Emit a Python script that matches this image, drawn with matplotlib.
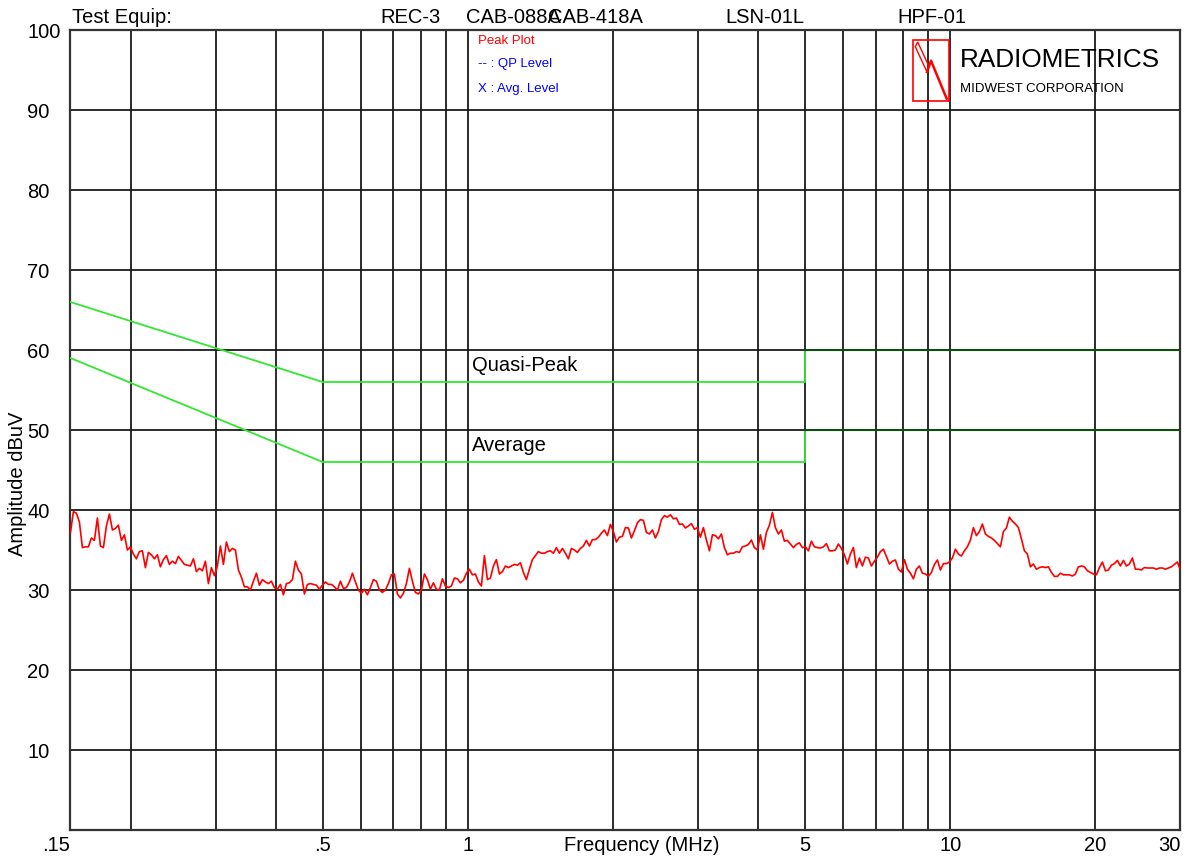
import numpy as np
import matplotlib
matplotlib.use('Agg')
import matplotlib.pyplot as plt
from matplotlib.patches import Rectangle, Polygon

plt.rcParams['font.family'] = ['Liberation Sans', 'DejaVu Sans']

# --- data ---
f_start, f_stop = 0.15, 30.0

grid_freqs = [0.15, 0.2, 0.3, 0.4, 0.5, 0.6, 0.7, 0.8, 0.9, 1, 2, 3, 4, 5, 6, 7, 8, 9, 10, 20, 30]
labeled = {0.15: '.15', 0.5: '.5', 1: '1', 5: '5', 10: '10', 20: '20', 30: '30'}
y_ticks = [10, 20, 30, 40, 50, 60, 70, 80, 90, 100]

qp_freq = [0.15, 0.5, 5, 5]
qp_level = [66, 56, 56, 60]
avg_freq = [0.15, 0.5, 5, 5]
avg_level = [59, 46, 46, 50]
hi_freq = [5, 30]
qp_hi = [60, 60]
avg_hi = [50, 50]

# peak sweep, 0.15 - 30 MHz (log sweep points)
trace_dbuv = [
    37.1, 39.8, 39.6, 38.5, 35.3, 35.4, 35.4, 36.5, 36.2, 39.0,
    35.5, 35.3, 38.0, 39.5, 37.5, 37.7, 38.1, 36.2, 36.9, 35.0,
    35.4, 34.5, 33.9, 34.8, 34.9, 32.8, 34.7, 34.4, 33.9, 34.4,
    32.9, 33.8, 34.3, 33.2, 33.6, 33.3, 34.2, 33.7, 33.2, 33.1,
    33.0, 33.9, 32.3, 32.7, 32.4, 33.6, 30.8, 32.8, 31.8, 33.0,
    35.5, 33.2, 36.0, 34.8, 35.2, 35.0, 32.5, 31.6, 30.4, 30.4,
    30.0, 31.1, 32.1, 30.6, 31.3, 31.0, 30.8, 31.1, 30.3, 30.1,
    30.7, 29.4, 30.8, 30.9, 31.3, 33.6, 32.5, 32.0, 29.5, 30.7,
    30.8, 30.7, 30.6, 30.1, 30.6, 31.0, 30.7, 30.7, 30.4, 30.0,
    31.1, 30.2, 30.3,
    31.0, 32.1, 31.0, 30.0, 29.6, 30.1, 29.4, 30.3, 31.3, 31.1,
    30.0, 29.7, 30.0, 30.8, 31.9, 32.0, 29.5, 29.0, 29.6, 30.8,
    32.7, 31.1, 29.7, 29.5, 30.0, 32.0, 31.3, 30.1, 30.9, 30.1,
    30.0, 31.4, 30.5, 30.3, 30.5, 31.5, 31.4, 30.9, 31.2, 32.1,
    32.6, 31.9, 32.0, 31.0, 30.5, 34.3, 31.3, 31.5, 33.0, 33.8,
    32.0, 32.3, 33.0, 32.8, 33.0, 33.2, 33.1, 33.4, 32.2, 31.3,
    32.6, 33.8, 34.3, 34.8, 34.6, 34.6, 34.8, 34.9, 34.6, 35.3,
    34.6, 35.2, 34.6, 33.9, 35.2, 35.0, 34.7, 35.2, 35.5, 36.2,
    35.5, 36.3, 36.3, 36.6, 37.1, 37.5, 36.8, 38.2, 37.3, 36.0,
    36.6, 36.7,
    37.8, 37.75, 36.5, 37.4, 38.4, 38.8, 38.7, 37.2, 37.0, 37.5,
    36.5, 37.3, 38.8, 39.3, 39.1, 39.4, 38.9, 39.0, 38.2, 38.25,
    37.75, 38.0, 38.3, 37.6, 37.8, 36.6, 37.8, 36.25, 34.9, 36.9,
    36.8, 36.4, 37.0, 35.3, 34.4, 34.6, 34.6, 34.8, 34.7, 35.4,
    35.5, 35.7, 36.25, 35.3, 35.0, 36.9, 35.1, 37.2, 38.1, 39.7,
    37.8, 37.0, 37.5, 36.1, 36.2, 35.75, 35.3, 35.7, 35.9, 35.3,
    35.4, 34.9, 36.1, 35.4, 35.3, 35.25, 35.4, 35.8, 34.9, 34.9,
    35.0, 35.75, 35.2, 34.4, 33.25, 34.5, 35.3, 32.8, 34.0, 33.0,
    34.1, 34.0, 33.0, 33.6, 34.1, 34.8, 35.1, 34.2, 33.25, 33.6,
    33.75, 32.6,
    32.25, 33.8, 32.6, 32.1, 31.4, 32.6, 33.0, 32.1, 32.0, 31.7,
    32.2, 33.2, 33.75, 32.5, 33.3, 33.3, 33.5, 34.0, 35.1, 34.5,
    34.25, 34.9, 35.4, 36.25, 37.8, 36.8, 37.3, 38.25, 37.0, 36.7,
    36.5, 36.2, 35.8, 35.4, 37.3, 37.75, 39.1, 38.6, 38.25, 37.8,
    36.4, 34.9, 34.5, 32.9, 33.25, 32.6, 32.8, 32.9, 32.8, 32.9,
    32.2, 31.7, 31.7, 32.1, 31.9, 31.9, 31.9, 31.75, 32.0, 32.9,
    33.0, 32.9, 32.4, 32.2, 32.0, 31.9, 32.8, 33.5, 32.4, 32.5,
    33.1, 33.3, 33.7, 33.0, 33.7, 33.0, 33.25, 34.0, 32.6, 32.6,
    32.5, 32.8, 32.75, 32.75, 32.75, 32.6, 32.75, 32.75, 32.6, 32.75,
    32.9, 33.2, 33.5, 32.5,
]
trace_freq = np.geomspace(f_start, f_stop, len(trace_dbuv))

equip = [('Test Equip:', 72), ('REC-3', 380), ('CAB-088A', 466), ('CAB-418A', 548),
         ('LSN-01L', 725), ('HPF-01', 897)]

W, H = 1198, 859
fig = plt.figure(figsize=(W / 100, H / 100), dpi=100)
ax = fig.add_axes([70.4 / W, (H - 830) / H, 1110 / W, 800 / H])

ax.set_xscale('log')
ax.set_xlim(f_start, f_stop)
ax.set_ylim(0, 100)

# grid
for f in grid_freqs:
    ax.axvline(f, color='#1a1a1a', lw=1.3, zorder=1)
for y in y_ticks[:-1]:
    ax.axhline(y, color='#1a1a1a', lw=1.3, zorder=1)
for s in ax.spines.values():
    s.set_linewidth(1.6)
    s.set_color('#333333')

ax.xaxis.set_minor_locator(matplotlib.ticker.NullLocator())
ax.set_xticks(grid_freqs)
ax.set_xticklabels([labeled.get(f, '') for f in grid_freqs], fontsize=14.5)
tl = ax.get_xticklabels()
tl[0].set_horizontalalignment('right')
tl[-1].set_horizontalalignment('right')
ax.tick_params(axis='x', length=0, pad=4)

ax.set_yticks(y_ticks)
ax.set_yticklabels([str(v) for v in y_ticks], fontsize=14.5)
for t in ax.get_yticklabels():
    t.set_horizontalalignment('left')
ax.tick_params(axis='y', length=0, pad=31)

# limits
ax.plot(qp_freq, qp_level, color='#33e633', lw=1.3, zorder=3)
ax.plot(avg_freq, avg_level, color='#33e633', lw=1.3, zorder=3)
ax.plot(hi_freq, qp_hi, color='#0d4d0d', lw=1.5, zorder=3)
ax.plot(hi_freq, avg_hi, color='#0d4d0d', lw=1.5, zorder=3)
ax.text(1.018, 57.4, 'Quasi-Peak', fontsize=14.5, va='baseline', ha='left')
ax.text(1.018, 47.4, 'Average', fontsize=14.5, va='baseline', ha='left')

# peak trace
ax.plot(trace_freq, trace_dbuv, color='#ff0000', lw=1.2, zorder=4)

# axis titles
ax.text(0.515, -0.008, 'Frequency (MHz)', transform=ax.transAxes, fontsize=14.5,
        ha='center', va='top')
fig.text(18 / W, 1 - 484 / H, 'Amplitude dBuV', rotation=90, fontsize=14.5,
         ha='center', va='center')

# overlay in pixel coords for header, legend and logo
ov = fig.add_axes([0, 0, 1, 1], zorder=5)
ov.set_xlim(0, W)
ov.set_ylim(H, 0)
ov.axis('off')
ov.patch.set_alpha(0)

for name, x in equip:
    ov.text(x, 23, name, fontsize=14.5, va='baseline', ha='left')

ov.text(478, 44, 'Peak Plot', fontsize=9.5, color='#ff0000', va='baseline')
ov.text(478, 67, '-- : QP Level', fontsize=9.5, color='#0000ff', va='baseline')
ov.text(478, 92, 'X : Avg. Level', fontsize=9.5, color='#0000ff', va='baseline')

ov.add_patch(Rectangle((913, 40), 36, 61, fill=False, ec='#ff0000', lw=1.2))
ov.add_patch(Polygon([(915.3, 46.7), (917.7, 42), (929, 66.5), (927, 72)],
                     closed=True, fill=False, ec='#ff0000', lw=1.0))
ov.plot([927, 931, 946.7], [72, 60.7, 98.7], color='#ff0000', lw=1.8)
ov.text(960, 67, 'RADIOMETRICS', fontsize=18.8, va='baseline', ha='left')
ov.text(960, 92, 'MIDWEST CORPORATION', fontsize=9.5, va='baseline', ha='left')

fig.savefig('out.png', dpi=100)
